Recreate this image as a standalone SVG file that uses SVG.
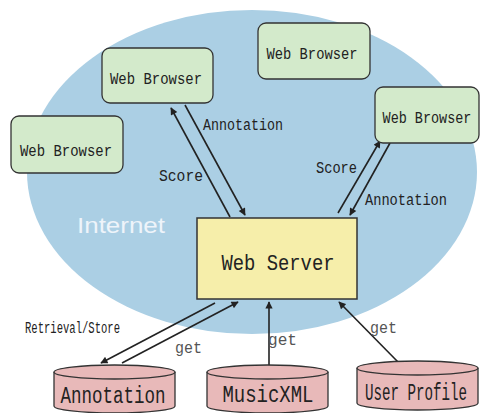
<svg xmlns="http://www.w3.org/2000/svg" width="481" height="413" viewBox="0 0 481 413">
<style>
.br rect{fill:#d3eacb;stroke:#333;stroke-width:1.3}
.srv rect{fill:#f6eeaa;stroke:#333;stroke-width:1.5}
.db path{fill:#e8b9b9;stroke:#333;stroke-width:1.3}
text{font-family:"Liberation Mono","DejaVu Sans Mono",monospace;fill:#222}
.t{font-size:17px}
.lab{font-size:16px}
.get{font-size:16px;fill:#555}
.cyl{font-size:23px}
.conn line{stroke:#222;stroke-width:1.6;marker-end:url(#ah)}
</style>
<defs>
<marker id="ah" viewBox="0 0 10 10" refX="9" refY="5" markerWidth="5.5" markerHeight="4.5" orient="auto" markerUnits="strokeWidth">
<path d="M0,0 L10,5 L0,10 z" fill="#222"/>
</marker>
</defs>
<g id="internet">
<ellipse cx="252" cy="172" rx="225" ry="162" fill="#abcfe4"/>
<text x="121" y="233" text-anchor="middle" style="font-family:'Liberation Sans',Arial,sans-serif;font-size:22px;fill:#eef4fa" textLength="88" lengthAdjust="spacingAndGlyphs">Internet</text>
</g>
<g class="conn" id="connectors">
<line x1="230" y1="217" x2="171" y2="108"/>
<line x1="185" y1="105" x2="245" y2="215"/>
<line x1="338" y1="213" x2="380" y2="141"/>
<line x1="390" y1="143" x2="350" y2="215"/>
<line x1="215" y1="303" x2="101" y2="363"/>
<line x1="122" y1="363" x2="238" y2="302"/>
<line x1="269" y1="366" x2="269" y2="302"/>
<line x1="398" y1="362" x2="339" y2="302"/>
</g>
<g id="labels">
<text class="lab" x="203" y="130" textLength="80" lengthAdjust="spacingAndGlyphs">Annotation</text>
<text class="lab" x="159" y="181" textLength="44" lengthAdjust="spacingAndGlyphs">Score</text>
<text class="lab" x="316" y="173" textLength="41" lengthAdjust="spacingAndGlyphs">Score</text>
<text class="lab" x="365" y="205" textLength="82" lengthAdjust="spacingAndGlyphs">Annotation</text>
<text class="lab" x="25" y="333" textLength="95" lengthAdjust="spacingAndGlyphs">Retrieval/Store</text>
<text class="get" x="175" y="353" textLength="27" lengthAdjust="spacingAndGlyphs">get</text>
<text class="get" x="268" y="345" textLength="29" lengthAdjust="spacingAndGlyphs">get</text>
<text class="get" x="370" y="333" textLength="27" lengthAdjust="spacingAndGlyphs">get</text>
</g>
<g id="browser1" class="br">
<rect x="102" y="48" width="111" height="55" rx="8"/>
<text class="t" x="156" y="84" text-anchor="middle" textLength="92" lengthAdjust="spacingAndGlyphs">Web Browser</text>
</g>
<g id="browser2" class="br">
<rect x="11" y="116" width="112" height="57" rx="8"/>
<text class="t" x="66" y="156" text-anchor="middle" textLength="92" lengthAdjust="spacingAndGlyphs">Web Browser</text>
</g>
<g id="browser3" class="br">
<rect x="258" y="23" width="112" height="56" rx="8"/>
<text class="t" x="312" y="59" text-anchor="middle" textLength="91" lengthAdjust="spacingAndGlyphs">Web Browser</text>
</g>
<g id="browser4" class="br">
<rect x="375" y="87" width="104" height="56" rx="8"/>
<text class="t" x="0" y="0" text-anchor="middle" transform="translate(427,123) scale(0.793,1)">Web Browser</text>
</g>
<g id="server" class="srv">
<rect x="197" y="218" width="160" height="81"/>
<text x="278" y="270" text-anchor="middle" style="font-size:22px" textLength="113" lengthAdjust="spacingAndGlyphs">Web Server</text>
</g>
<g id="db-annotation" class="db">
<path d="M54,372 A60.5,7 0 0 1 175,372 L175,406 A60.5,7 0 0 1 54,406 Z"/>
<path d="M54,372 A60.5,7 0 0 0 175,372" fill="none"/>
<text class="cyl" x="113" y="403" text-anchor="middle" textLength="105" lengthAdjust="spacingAndGlyphs">Annotation</text>
</g>
<g id="db-musicxml" class="db">
<path d="M207,372 A60.5,7 0 0 1 328,372 L328,406 A60.5,7 0 0 1 207,406 Z"/>
<path d="M207,372 A60.5,7 0 0 0 328,372" fill="none"/>
<text class="cyl" x="268" y="402" text-anchor="middle" textLength="91" lengthAdjust="spacingAndGlyphs">MusicXML</text>
</g>
<g id="db-userprofile" class="db">
<path d="M357,368 A60.5,7 0 0 1 478,368 L478,403 A60.5,7 0 0 1 357,403 Z"/>
<path d="M357,368 A60.5,7 0 0 0 478,368" fill="none"/>
<text class="cyl" x="0" y="0" text-anchor="middle" transform="translate(416,400) scale(0.616,1)">User Profile</text>
</g>
</svg>
